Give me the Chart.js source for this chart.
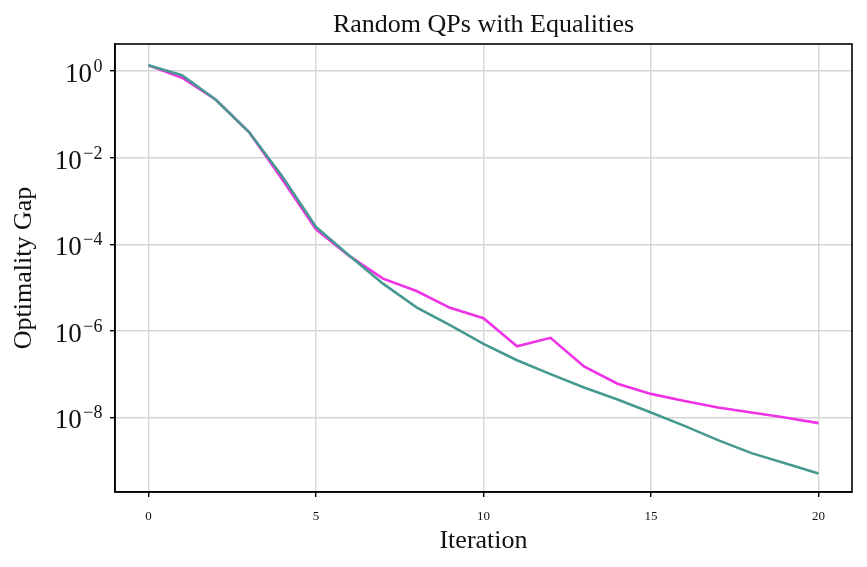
<!DOCTYPE html>
<html>
<head>
<meta charset="utf-8">
<script src="https://cdn.jsdelivr.net/npm/chart.js@4"></script>
<style>
  html, body { margin: 0; padding: 0; background: #fff; }
  #wrap { width: 867px; height: 567px; }
</style>
</head>
<body>
<div id="wrap"><canvas id="chart"></canvas></div>
<script>
const FONT = "'Liberation Serif', 'DejaVu Serif', serif";

// iterations and optimality gap per method
const iterations = [0, 1, 2, 3, 4, 5, 6, 7, 8, 9, 10, 11, 12, 13, 14, 15, 16, 17, 18, 19, 20];
const gapMagenta = [1.35, 0.7, 0.22, 0.039, 0.0031, 2.2e-4, 5.3e-5, 1.6e-5, 8.3e-6, 3.4e-6, 1.95e-6, 4.4e-7, 6.9e-7, 1.5e-7, 6.0e-8, 3.5e-8, 2.4e-8, 1.7e-8, 1.3e-8, 1.0e-8, 7.4e-9];
const gapTeal = [1.35, 0.8, 0.22, 0.039, 0.0036, 2.5e-4, 5.4e-5, 1.23e-5, 3.5e-6, 1.35e-6, 5.0e-7, 2.1e-7, 1.0e-7, 4.9e-8, 2.6e-8, 1.3e-8, 6.4e-9, 3.0e-9, 1.5e-9, 8.8e-10, 5.1e-10];

const xTicks = [0, 5, 10, 15, 20];
const yExponents = [0, -2, -4, -6, -8];
const chartTitle = 'Random QPs with Equalities';

const pts = ys => iterations.map((x, i) => ({ x: x, y: ys[i] }));

// frame on all four sides, title centred over the plot, 10^n tick labels
const framePlugin = {
    id: 'frame',
    afterDraw(chart) {
        const { ctx, chartArea: a } = chart;
        const yScale = chart.scales.y;
        ctx.save();
        ctx.strokeStyle = '#000';
        ctx.lineWidth = 1.6;
        ctx.strokeRect(a.left, a.top, a.right - a.left, a.bottom - a.top);

        ctx.fillStyle = '#111';
        ctx.textBaseline = 'alphabetic';
        ctx.textAlign = 'center';
        ctx.font = '26px ' + FONT;
        ctx.fillText(chartTitle, (a.left + a.right) / 2, 32);

        ctx.textAlign = 'left';
        yExponents.forEach(e => {
            const y = yScale.getPixelForValue(Math.pow(10, e));
            const exp = e < 0 ? '\u2212' + (-e) : String(e);
            ctx.font = '27px ' + FONT;
            const wBase = ctx.measureText('10').width;
            ctx.font = '18px ' + FONT;
            const wExp = ctx.measureText(exp).width;
            const x0 = a.left - 14 - wBase - wExp;
            ctx.font = '27px ' + FONT;
            ctx.fillText('10', x0, y + 11);
            ctx.font = '18px ' + FONT;
            ctx.fillText(exp, x0 + wBase + 1.5, y + 1);
        });
        ctx.restore();
    }
};

new Chart(document.getElementById('chart'), {
    type: 'line',
    data: {
        datasets: [
            { label: 'teal', data: pts(gapTeal), borderColor: '#469990', borderWidth: 2.6, pointRadius: 0, order: 0 },
            { label: 'magenta', data: pts(gapMagenta), borderColor: '#f032e6', borderWidth: 2.6, pointRadius: 0, order: 1 }
        ]
    },
    options: {
        responsive: true,
        maintainAspectRatio: false,
        animation: false,
        layout: { padding: { left: 0, right: 15, top: 44, bottom: 0 } },
        plugins: {
            legend: { display: false },
            tooltip: { enabled: false },
            title: { display: false }
        },
        scales: {
            x: {
                type: 'linear',
                min: -1,
                max: 21,
                afterBuildTicks: s => { s.ticks = xTicks.map(v => ({ value: v })); },
                afterFit: s => { s.height = 75; },
                ticks: { color: '#111', font: { family: FONT, size: 13 }, padding: 12, maxRotation: 0 },
                grid: { color: '#d6d6d6', lineWidth: 1.4, tickColor: '#000', tickLength: 5, tickWidth: 1.4 },
                border: { color: '#000', width: 1.6 },
                title: { display: true, text: 'Iteration', color: '#111', font: { family: FONT, size: 26 }, padding: { top: 0, bottom: 10 } }
            },
            y: {
                type: 'logarithmic',
                min: 1.9e-10,
                max: 4.2,
                afterBuildTicks: s => { s.ticks = yExponents.map(e => ({ value: Math.pow(10, e) })); },
                afterFit: s => { s.width = 115; },
                ticks: { callback: () => '', font: { size: 1 } },
                grid: { color: '#d6d6d6', lineWidth: 1.4, tickColor: '#000', tickLength: 5, tickWidth: 1.4 },
                border: { color: '#000', width: 1.6 },
                title: { display: true, text: 'Optimality Gap', color: '#111', font: { family: FONT, size: 26 }, padding: { top: 9, bottom: 0 } }
            }
        }
    },
    plugins: [framePlugin]
});
</script>
</body>
</html>
